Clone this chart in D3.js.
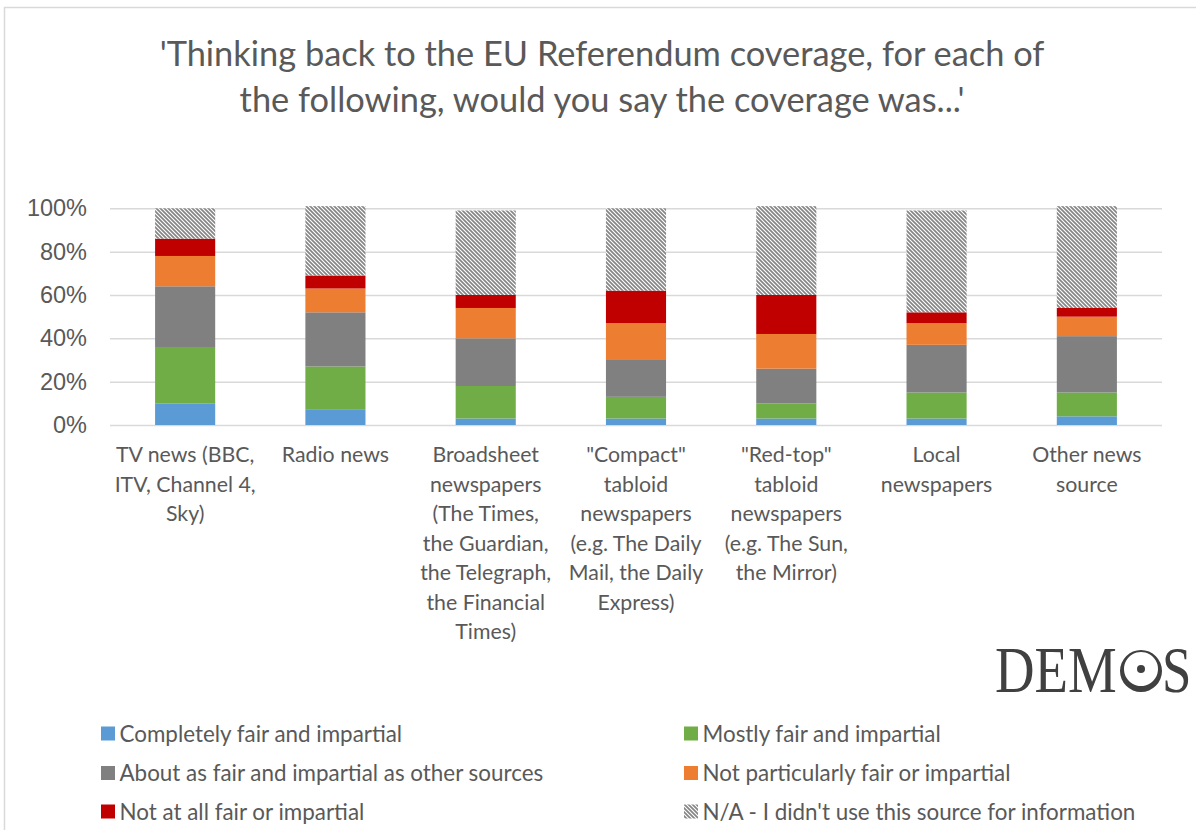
<!DOCTYPE html>
<html>
<head>
<meta charset="utf-8">
<script src="https://cdn.jsdelivr.net/npm/d3@7"></script>
<style>
  html, body { margin: 0; padding: 0; background: #fff; }
  svg { display: block; }
</style>
</head>
<body>
<svg id="chart" width="1196" height="830"></svg>
<script>
// Survey answers by news source (percent of respondents)
const categories = ["TV news", "Radio news", "Broadsheet", "Compact", "Red-top", "Local", "Other"];
const categoryLabels = [
  ["TV news (BBC,", "ITV, Channel 4,", "Sky)"],
  ["Radio news"],
  ["Broadsheet", "newspapers", "(The Times,", "the Guardian,", "the Telegraph,", "the Financial", "Times)"],
  ["\"Compact\"", "tabloid", "newspapers", "(e.g. The Daily", "Mail, the Daily", "Express)"],
  ["\"Red-top\"", "tabloid", "newspapers", "(e.g. The Sun,", "the Mirror)"],
  ["Local", "newspapers"],
  ["Other news", "source"]
];
const completelyFair   = [10, 7, 3, 3, 3, 3, 4];
const mostlyFair       = [26, 20, 15, 10, 7, 12, 11];
const aboutAsFair      = [28, 25, 22, 17, 16, 22, 26];
const notParticularly  = [14, 11, 14, 17, 16, 10, 9];
const notAtAll         = [8, 6, 6, 15, 18, 5, 4];
const notUsed          = [14, 32, 39, 38, 41, 47, 47];

const seriesNames = [
  "Completely fair and impartial",
  "Mostly fair and impartial",
  "About as fair and impartial as other sources",
  "Not particularly fair or impartial",
  "Not at all fair or impartial",
  "N/A - I didn't use this source for information"
];
const seriesValues = [completelyFair, mostlyFair, aboutAsFair, notParticularly, notAtAll, notUsed];
const yTicks = [0, 20, 40, 60, 80, 100];

const colors = ["#5B9BD5", "#70AD47", "#808080", "#ED7D31", "#C00000", "url(#hatch)"];

const svg = d3.select("#chart");
const textColor = "#595959";
const sansFont = "Lato, 'Open Sans', sans-serif";

// hatch for the "not used" segment
const defs = svg.append("defs");
const pat = defs.append("pattern")
  .attr("id", "hatch").attr("patternUnits", "userSpaceOnUse")
  .attr("width", 4).attr("height", 4);
pat.append("rect").attr("width", 4).attr("height", 4).attr("fill", "#fff");
pat.append("path")
  .attr("d", "M-1,-1L5,5M3,-1L5,1M-1,3L1,5")
  .attr("stroke", "#858585").attr("stroke-width", 1.7);

// chart frame
svg.append("rect")
  .attr("x", 4.5).attr("y", 7.5).attr("width", 1300).attr("height", 1000)
  .attr("fill", "none").attr("stroke", "#d9d9d9").attr("stroke-width", 1.5);

// title
const title = svg.append("text")
  .attr("text-anchor", "middle")
  .attr("font-family", sansFont)
  .attr("font-size", 34.4)
  .attr("fill", textColor);
title.append("tspan").attr("x", 602).attr("y", 66)
  .text("'Thinking back to the EU Referendum coverage, for each of");
title.append("tspan").attr("x", 602).attr("y", 112)
  .text("the following, would you say the coverage was...'");

// scales
const plotLeft = 110, plotRight = 1162, plotTop = 208.3, plotBottom = 425;
const x = d3.scaleBand().domain(categories).range([plotLeft, plotRight])
  .paddingInner(0.6).paddingOuter(0.3);
const y = d3.scaleLinear().domain([0, 100]).range([plotBottom, plotTop]);

// gridlines
svg.append("g")
  .attr("transform", `translate(${plotLeft},0)`)
  .call(d3.axisLeft(y).tickValues(yTicks).tickSize(-(plotRight - plotLeft)).tickFormat(""))
  .call(g => g.select(".domain").remove())
  .call(g => g.selectAll("line").attr("stroke", "#d9d9d9").attr("stroke-width", 1.5));

// y axis labels
svg.append("g")
  .attr("transform", `translate(${plotLeft},0)`)
  .call(d3.axisLeft(y).tickValues(yTicks).tickSize(0).tickPadding(23).tickFormat(d => d + "%"))
  .call(g => g.select(".domain").remove())
  .call(g => g.selectAll("text")
    .attr("font-family", "'Liberation Sans', Arial, sans-serif")
    .attr("font-size", 23.5)
    .attr("fill", textColor));

// stacked bars
const rows = categories.map((c, i) => {
  const r = { category: c };
  seriesNames.forEach((s, j) => r[s] = seriesValues[j][i]);
  return r;
});
const stack = d3.stack().keys(seriesNames)(rows);

svg.append("g").selectAll("g")
  .data(stack).join("g")
  .attr("fill", (d, i) => colors[i])
  .selectAll("rect")
  .data(d => d).join("rect")
  .attr("x", d => x(d.data.category))
  .attr("width", x.bandwidth())
  .attr("y", d => y(d[1]))
  .attr("height", d => y(d[0]) - y(d[1]));

// category labels
const xAxis = svg.append("g")
  .attr("transform", `translate(0,${plotBottom})`)
  .call(d3.axisBottom(x).tickSize(0).tickFormat(""))
  .call(g => g.select(".domain").remove());
xAxis.selectAll(".tick text").remove();
xAxis.selectAll(".tick").each(function (d, i) {
  const t = d3.select(this).append("text")
    .attr("text-anchor", "middle")
    .attr("font-family", sansFont)
    .attr("font-size", 21.3)
    .attr("fill", textColor);
  categoryLabels[i].forEach((line, k) => {
    t.append("tspan").attr("x", 0).attr("y", 37 + k * 29.5).text(line);
  });
});

// legend
const legendPos = [
  [101, 733.5], [684, 733.5],
  [101, 773], [684, 773],
  [101, 811.5], [684, 811.5]
];
const legend = svg.append("g");
seriesNames.forEach((name, i) => {
  const [lx, ly] = legendPos[i];
  legend.append("rect")
    .attr("x", lx).attr("y", ly - 7).attr("width", 14).attr("height", 14)
    .attr("fill", colors[i]);
  legend.append("text")
    .attr("x", lx + 18.5).attr("y", ly + 8)
    .attr("font-family", sansFont)
    .attr("font-size", 22.4)
    .attr("fill", textColor)
    .text(name);
});

// DEMOS wordmark: condensed serif letters with an eye in place of the O
const logo = svg.append("g").attr("fill", "#404040");
const serif = "'Liberation Serif', 'DejaVu Serif', serif";
logo.append("text")
  .attr("transform", "translate(995,692) scale(0.83,1)")
  .attr("font-family", serif)
  .attr("font-size", 66)
  .text("DEM");
logo.append("text")
  .attr("transform", "translate(1162,692) scale(0.8,1)")
  .attr("font-family", serif)
  .attr("font-size", 66)
  .text("S");
const eye = logo.append("g").attr("transform", "translate(1141,671)");
eye.append("path")
  .attr("fill-rule", "evenodd")
  .attr("d", d3.arc()({innerRadius: 0, outerRadius: 21, startAngle: 0, endAngle: 2 * Math.PI}) +
             "M0,-19 A17,17 0 1,0 0.001,-19 Z");
eye.append("circle").attr("cx", 0).attr("cy", -2).attr("r", 4);
</script>
</body>
</html>
